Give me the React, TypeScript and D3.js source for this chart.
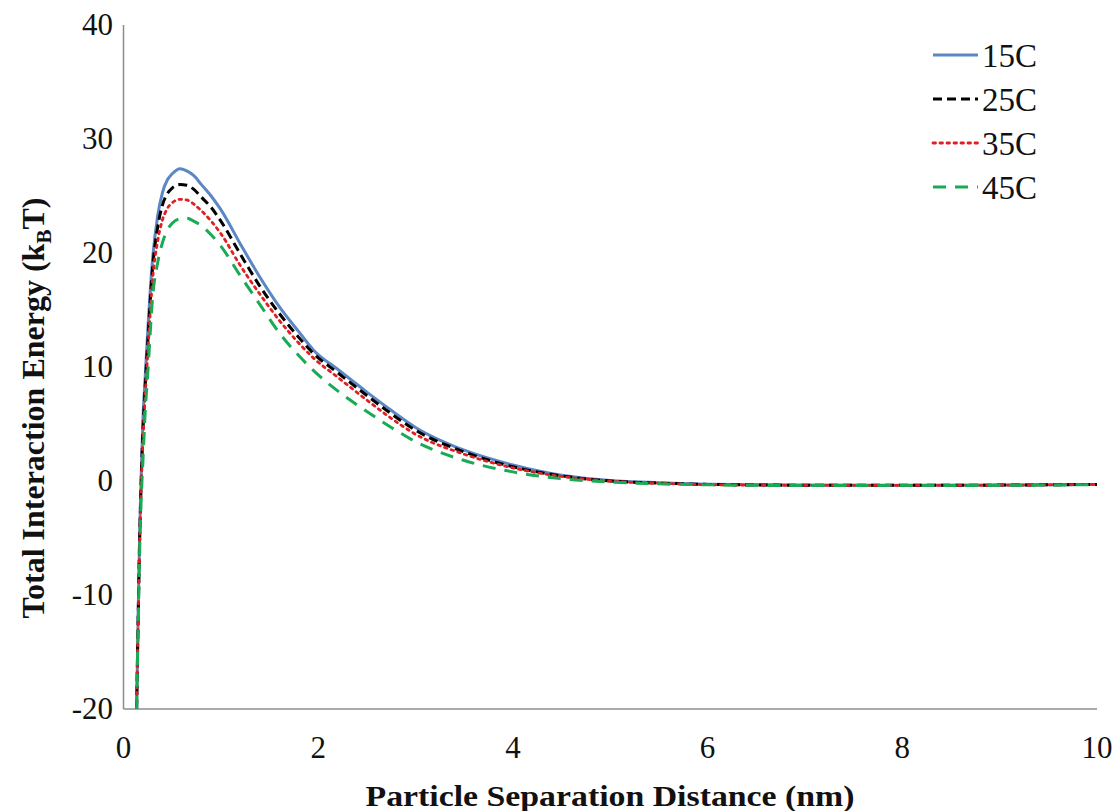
import React from "react";
import * as d3 from "d3";

const xValues = [0.135, 0.15, 0.165, 0.18, 0.2, 0.22, 0.25, 0.3, 0.35, 0.4, 0.45, 0.5, 0.58, 0.65, 0.72, 0.8, 0.9, 1.0, 1.2, 1.4, 1.6, 1.8, 1.95, 2.2, 2.5, 2.75, 3.0, 3.5, 4.0, 4.5, 5.0, 5.5, 6, 7, 8, 9, 10];

const series15 = [-20, -12, -5, 0, 5.5, 8.7, 13.3, 19.6, 23.2, 25.3, 26.4, 26.95, 27.4, 27.2, 26.8, 26.0, 25.0, 23.8, 20.8, 17.9, 15.3, 13.1, 11.5, 9.8, 7.8, 6.2, 4.7, 2.7, 1.4, 0.5, 0.05, -0.15, -0.28, -0.35, -0.37, -0.35, -0.3];
const series25 = [-20, -12.3, -5.5, -0.5, 4.5, 7.8, 12.3, 18.8, 22.2, 24.2, 25.2, 25.7, 26.0, 25.95, 25.6, 24.9, 24.0, 22.8, 19.9, 17.1, 14.7, 12.6, 11.2, 9.5, 7.5, 5.9, 4.45, 2.55, 1.25, 0.45, 0.0, -0.18, -0.3, -0.37, -0.38, -0.36, -0.3];
const series35 = [-20, -12.6, -6, -1, 3.5, 7.0, 11.3, 17.8, 21.0, 22.9, 23.9, 24.4, 24.7, 24.65, 24.3, 23.7, 22.8, 21.7, 18.9, 16.4, 14.1, 12.1, 10.8, 9.1, 7.1, 5.5, 4.1, 2.35, 1.15, 0.4, -0.02, -0.2, -0.32, -0.38, -0.39, -0.37, -0.3];
const series45 = [-20, -13, -6.5, -2, 1.8, 5.6, 9.5, 16.2, 19.1, 20.9, 22.0, 22.6, 23.0, 23.05, 22.8, 22.4, 21.6, 20.6, 18.0, 15.5, 13.0, 11.0, 9.7, 7.9, 6.1, 4.7, 3.45, 1.8, 0.8, 0.2, -0.1, -0.25, -0.33, -0.4, -0.4, -0.38, -0.32];

const seriesNames = ["15C", "25C", "35C", "45C"];
const seriesData = [series15, series25, series35, series45];
const seriesColors = ["#5B87C5", "#000000", "#E02020", "#1AAA55"];
const seriesDash = ["", "9,5", "2.5,4.5", "13,9"];
const seriesWidth = [3, 3, 2.8, 3];

const xTicks = [0, 2, 4, 6, 8, 10];
const yTicks = [-20, -10, 0, 10, 20, 30, 40];

const W = 1115;
const H = 811;
const left = 123.5;
const right = 1097;
const top = 25;
const bottom = 709;

const FONT = "'Liberation Serif', 'Times New Roman', Times, serif";

export default function App() {
  const x = d3.scaleLinear().domain([0, 10]).range([left, right]);
  const y = d3.scaleLinear().domain([-20, 40]).range([bottom, top]);
  const line = d3
    .line<number>()
    .x((_, i) => x(xValues[i]))
    .y((d) => y(d))
    .curve(d3.curveMonotoneX);
  const tstyle = { fontFamily: FONT };
  const legendY = [55, 99, 143, 187];
  return (
    <svg
      width={W}
      height={H}
      style={{ position: "absolute", left: 0, top: 0, background: "#fff" }}
    >
      <defs>
        <clipPath id="plot">
          <rect x={left} y={top} width={right - left + 2} height={bottom - top} />
        </clipPath>
      </defs>
      <line x1={left} x2={left} y1={top} y2={bottom} stroke="#8c8c8c" strokeWidth={1.5} />
      <line x1={left} x2={right} y1={bottom} y2={bottom} stroke="#8c8c8c" strokeWidth={1.5} />
      {yTicks.map((t) => (
        <text key={t} x={113} y={y(t) + 10} textAnchor="end" fontSize={31} fill="#111" style={tstyle}>
          {t}
        </text>
      ))}
      {xTicks.map((t) => (
        <text key={t} x={x(t)} y={758} textAnchor="middle" fontSize={31} fill="#111" style={tstyle}>
          {t}
        </text>
      ))}
      <g clipPath="url(#plot)">
        {seriesData.map((s, k) => (
          <path
            key={k}
            d={line(s) || ""}
            fill="none"
            stroke={seriesColors[k]}
            strokeWidth={seriesWidth[k]}
            strokeDasharray={seriesDash[k]}
            strokeLinecap={k === 2 ? "round" : "butt"}
          />
        ))}
      </g>
      {seriesNames.map((n, k) => (
        <g key={n}>
          <line
            x1={933}
            x2={978}
            y1={legendY[k]}
            y2={legendY[k]}
            stroke={seriesColors[k]}
            strokeWidth={seriesWidth[k]}
            strokeDasharray={seriesDash[k]}
            strokeLinecap={k === 2 ? "round" : "butt"}
          />
          <text x={982} y={legendY[k] + 12} fontSize={33} fill="#111" style={tstyle}>
            {n}
          </text>
        </g>
      ))}
      <text
        x={610}
        y={806}
        textAnchor="middle"
        fontSize={30}
        fontWeight="bold"
        fill="#111"
        textLength={489}
        lengthAdjust="spacingAndGlyphs"
        style={tstyle}
      >
        Particle Separation Distance (nm)
      </text>
      <text
        transform="translate(44,408) rotate(-90)"
        textAnchor="middle"
        fontSize={32}
        fontWeight="bold"
        fill="#111"
        style={tstyle}
      >
        Total Interaction Energy (k
        <tspan fontSize={21} dy={7}>B</tspan>
        <tspan dy={-7}>T)</tspan>
      </text>
    </svg>
  );
}
